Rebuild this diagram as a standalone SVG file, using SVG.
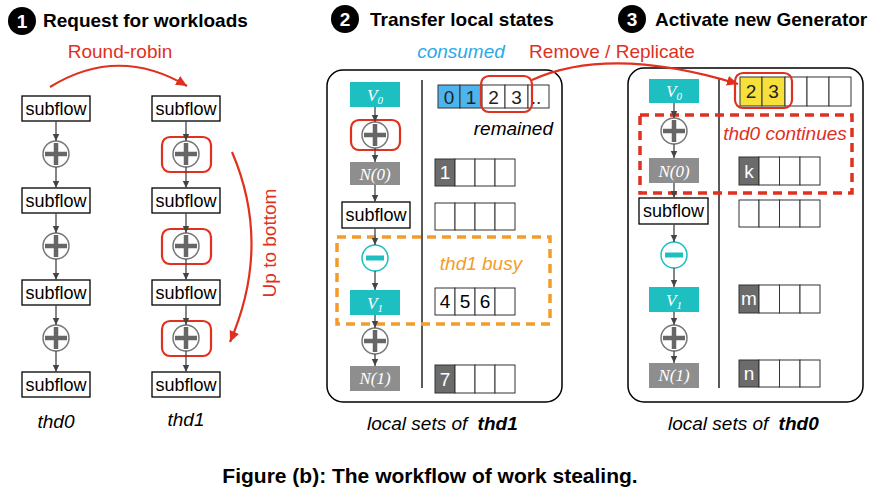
<svg xmlns="http://www.w3.org/2000/svg" width="878" height="500" viewBox="0 0 878 500">
<style>
.t{font-family:"Liberation Sans",Arial,sans-serif}
.ttl{font-family:"Liberation Sans",Arial,sans-serif;font-weight:bold;font-size:19px;fill:#000}
.num{font-family:"Liberation Sans",Arial,sans-serif;font-weight:bold;font-size:19px;fill:#fff;text-anchor:middle}
.sf{fill:#fff;stroke:#000;stroke-width:1.3}
.sft{font-family:"Liberation Sans",Arial,sans-serif;font-size:18px;fill:#000;text-anchor:middle}
.lbl{font-family:"Liberation Sans",Arial,sans-serif;font-size:19px}
.it{font-style:italic}
.red{fill:#E0301E}
.hl{fill:none;stroke:#E0301E;stroke-width:2.2}
.dash{fill:none;stroke-width:3.5;stroke-dasharray:9 6}
.teal{fill:#1DBFC1}
.gray{fill:#8E8E8E}
.nt{font-family:"Liberation Serif","Times New Roman",serif;font-style:italic;font-size:17px;fill:#fff;text-anchor:middle}
.cell{fill:#fff;stroke:#333;stroke-width:1}
.cellt{font-family:"Liberation Sans",Arial,sans-serif;font-size:19px;fill:#222;text-anchor:middle}
.dk{fill:#6B6B6B;stroke:#333;stroke-width:1}
.panel{fill:#fff;stroke:#000;stroke-width:1.5}
.conn line{stroke:#444;stroke-width:1.3}
.redarc{fill:none;stroke:#E0301E;stroke-width:2.2}
</style>
<defs>
<marker id="ah" markerWidth="8" markerHeight="8" refX="7" refY="4" orient="auto" markerUnits="userSpaceOnUse"><path d="M0,0.8 L7,4 L0,7.2 z" fill="#444"/></marker>
<marker id="rah" markerWidth="12" markerHeight="12" refX="11" refY="6" orient="auto" markerUnits="userSpaceOnUse"><path d="M0,1 L11,6 L0,11 z" fill="#E0301E"/></marker>
<g id="plus"><circle r="13" fill="#fff" stroke="#777" stroke-width="1.5"/><path d="M-11,0 H11 M0,-11 V11" stroke="#666" stroke-width="4.5"/></g>
<g id="minus"><circle r="13" fill="#fff" stroke="#1DBFC1" stroke-width="1.5"/><path d="M-9,0 H9" stroke="#1DBFC1" stroke-width="5"/></g>
</defs>
<rect width="878" height="500" fill="#fff"/>

<!-- titles -->
<g id="title1"><circle cx="22" cy="21" r="14" fill="#000"/><text class="num" x="22" y="28">1</text><text class="ttl" x="43" y="27">Request for workloads</text></g>
<g id="title2"><circle cx="345" cy="19" r="14" fill="#000"/><text class="num" x="345" y="26">2</text><text class="ttl" x="370" y="26">Transfer local states</text></g>
<g id="title3"><circle cx="632" cy="19" r="14" fill="#000"/><text class="num" x="632" y="26">3</text><text class="ttl" x="655" y="26">Activate new Generator</text></g>

<!-- panel 1 -->
<g id="col-thd0">
<rect class="sf" x="22" y="96" width="68" height="25"/><text class="sft" x="56" y="115">subflow</text>
<use href="#plus" x="56" y="154"/>
<rect class="sf" x="22" y="188" width="68" height="25"/><text class="sft" x="56" y="207">subflow</text>
<use href="#plus" x="56" y="246"/>
<rect class="sf" x="22" y="280" width="68" height="25"/><text class="sft" x="56" y="299">subflow</text>
<use href="#plus" x="56" y="338"/>
<rect class="sf" x="22" y="372" width="68" height="25"/><text class="sft" x="56" y="391">subflow</text>
<text class="lbl it" x="56" y="428" text-anchor="middle">thd0</text>
</g>
<g id="col-thd1">
<rect class="sf" x="152" y="96" width="68" height="25"/><text class="sft" x="186" y="115">subflow</text>
<use href="#plus" x="186" y="154"/>
<rect class="hl" x="162" y="137" width="49" height="35" rx="8"/>
<rect class="sf" x="152" y="188" width="68" height="25"/><text class="sft" x="186" y="207">subflow</text>
<use href="#plus" x="186" y="246"/>
<rect class="hl" x="162" y="229" width="49" height="35" rx="8"/>
<rect class="sf" x="152" y="280" width="68" height="25"/><text class="sft" x="186" y="299">subflow</text>
<use href="#plus" x="186" y="338"/>
<rect class="hl" x="162" y="321" width="49" height="35" rx="8"/>
<rect class="sf" x="152" y="372" width="68" height="25"/><text class="sft" x="186" y="391">subflow</text>
<text class="lbl it" x="186" y="426" text-anchor="middle">thd1</text>
</g>
<g id="round-robin"><text class="lbl red" x="120" y="58" text-anchor="middle">Round-robin</text></g>
<g id="up-to-bottom"><text class="lbl red" transform="translate(276,243) rotate(-90)" text-anchor="middle">Up to bottom</text></g>

<!-- panel 2 -->
<g id="panel-thd1">
<rect class="panel" x="327" y="70" width="235" height="332" rx="16"/>
<line x1="422" y1="80" x2="422" y2="388" stroke="#000" stroke-width="1.3"/>
</g>
<g id="p2-V0"><rect class="teal" x="350" y="82" width="50" height="25"/><text class="nt" x="375" y="101">V<tspan font-size="11" dy="3">0</tspan></text></g>
<g id="p2-plus0"><use href="#plus" x="375" y="135"/><rect class="hl" x="351" y="120" width="49" height="30" rx="8"/></g>
<g id="p2-N0"><rect class="gray" x="350" y="162" width="50" height="23"/><text class="nt" x="375" y="180">N(0)</text></g>
<g id="p2-subflow"><rect class="sf" x="342" y="202" width="68" height="26"/><text class="sft" x="376" y="221">subflow</text></g>
<g id="p2-minus"><use href="#minus" x="375" y="258"/></g>
<g id="p2-V1"><rect class="teal" x="350" y="290" width="50" height="25"/><text class="nt" x="375" y="309">V<tspan font-size="11" dy="3">1</tspan></text></g>
<g id="p2-plus1"><use href="#plus" x="375" y="341"/></g>
<g id="p2-N1"><rect class="gray" x="350" y="366" width="50" height="25"/><text class="nt" x="375" y="384">N(1)</text></g>

<g id="p2-cells-top">
<rect x="438" y="85" width="22" height="23" fill="#4DB4EE" stroke="#333"/>
<rect x="460" y="85" width="22" height="23" fill="#4DB4EE" stroke="#333"/>
<rect class="cell" x="482" y="85" width="23" height="23" stroke="#aaa"/>
<rect class="cell" x="505" y="85" width="23" height="23" stroke="#aaa"/>
<rect class="cell" x="528" y="85" width="21" height="23"/>
<text class="cellt" x="449" y="104">0</text><text class="cellt" x="471" y="104">1</text><text class="cellt" x="493.5" y="104">2</text><text class="cellt" x="516.5" y="104">3</text><text class="cellt" x="536" y="104" font-size="15">..</text>
<rect class="hl" x="481" y="76" width="51" height="36" rx="8"/>
</g>
<g id="p2-cells-N0">
<rect class="dk" x="435" y="159" width="20" height="27"/><rect class="cell" x="455" y="159" width="20" height="27"/><rect class="cell" x="475" y="159" width="20" height="27"/><rect class="cell" x="495" y="159" width="20" height="27"/>
<text class="cellt" x="445" y="179" style="fill:#fff">1</text>
</g>
<g id="p2-cells-sub">
<rect class="cell" x="435" y="203" width="20" height="27"/><rect class="cell" x="455" y="203" width="20" height="27"/><rect class="cell" x="475" y="203" width="20" height="27"/><rect class="cell" x="495" y="203" width="20" height="27"/>
</g>
<g id="p2-cells-V1">
<rect class="cell" x="435" y="288" width="20" height="27"/><rect class="cell" x="455" y="288" width="20" height="27"/><rect class="cell" x="475" y="288" width="20" height="27"/><rect class="cell" x="495" y="288" width="20" height="27"/>
<text class="cellt" x="445" y="308" style="fill:#000">4</text><text class="cellt" x="465" y="308" style="fill:#000">5</text><text class="cellt" x="485" y="308" style="fill:#000">6</text>
</g>
<g id="p2-cells-N1">
<rect class="dk" x="435" y="365" width="20" height="28"/><rect class="cell" x="455" y="365" width="20" height="28"/><rect class="cell" x="475" y="365" width="20" height="28"/><rect class="cell" x="495" y="365" width="20" height="28"/>
<text class="cellt" x="445" y="386" style="fill:#fff">7</text>
</g>
<g id="p2-busy"><rect class="dash" x="337" y="237" width="213" height="87" stroke="#F39C2B"/><text class="lbl it" x="481" y="270" text-anchor="middle" fill="#F39C2B">thd1 busy</text></g>
<g id="p2-labels">
<text class="lbl it" x="461" y="58" text-anchor="middle" fill="#2AA9E8">consumed</text>
<text class="lbl it" x="553" y="135" text-anchor="end" fill="#000">remained</text>
<text class="lbl it" x="367" y="430" fill="#000">local sets of <tspan dx="5" font-weight="bold">thd1</tspan></text>
</g>
<g id="replicate-label"><text class="lbl red" x="612" y="58" text-anchor="middle">Remove / Replicate</text></g>

<!-- panel 3 -->
<g id="panel-thd0">
<rect class="panel" x="628" y="68" width="235" height="334" rx="16"/>
<line x1="719" y1="78" x2="719" y2="388" stroke="#000" stroke-width="1.3"/>
</g>
<g id="p3-V0"><rect class="teal" x="649" y="79" width="50" height="24"/><text class="nt" x="674" y="97">V<tspan font-size="11" dy="3">0</tspan></text></g>
<g id="p3-plus0"><use href="#plus" x="674" y="131"/></g>
<g id="p3-N0"><rect class="gray" x="649" y="158" width="50" height="25"/><text class="nt" x="674" y="177">N(0)</text></g>
<g id="p3-subflow"><rect class="sf" x="639" y="198" width="69" height="26"/><text class="sft" x="673.5" y="217">subflow</text></g>
<g id="p3-minus"><use href="#minus" x="674" y="255"/></g>
<g id="p3-V1"><rect class="teal" x="649" y="287" width="50" height="25"/><text class="nt" x="674" y="306">V<tspan font-size="11" dy="3">1</tspan></text></g>
<g id="p3-plus1"><use href="#plus" x="674" y="338"/></g>
<g id="p3-N1"><rect class="gray" x="649" y="363" width="50" height="25"/><text class="nt" x="674" y="381">N(1)</text></g>

<g id="p3-cells-top">
<rect x="740" y="77" width="22" height="29" fill="#F7E03A" stroke="#333"/>
<rect x="762" y="77" width="23" height="29" fill="#F7E03A" stroke="#333"/>
<rect class="cell" x="785" y="77" width="22" height="29" stroke="#999"/>
<rect class="cell" x="807" y="77" width="22" height="29" stroke="#999"/>
<rect class="cell" x="829" y="77" width="22" height="29" stroke="#666"/>
<text class="cellt" x="751" y="98">2</text><text class="cellt" x="773.5" y="98">3</text>
<rect class="hl" x="735" y="73" width="57" height="35" rx="8"/>
</g>
<g id="p3-cells-N0">
<rect class="dk" x="739" y="157" width="20" height="28"/><rect class="cell" x="759" y="157" width="20.5" height="28"/><rect class="cell" x="779.5" y="157" width="20.5" height="28"/><rect class="cell" x="800" y="157" width="20" height="28"/>
<text class="cellt" x="749" y="178" style="fill:#fff">k</text>
</g>
<g id="p3-cells-sub">
<rect class="cell" x="739" y="200" width="20" height="27"/><rect class="cell" x="759" y="200" width="20.5" height="27"/><rect class="cell" x="779.5" y="200" width="20.5" height="27"/><rect class="cell" x="800" y="200" width="20" height="27"/>
</g>
<g id="p3-cells-V1">
<rect class="dk" x="739" y="285" width="20" height="28"/><rect class="cell" x="759" y="285" width="20.5" height="28"/><rect class="cell" x="779.5" y="285" width="20.5" height="28"/><rect class="cell" x="800" y="285" width="20" height="28"/>
<text class="cellt" x="749" y="305" style="fill:#fff">m</text>
</g>
<g id="p3-cells-N1">
<rect class="dk" x="739" y="360" width="20" height="27"/><rect class="cell" x="759" y="360" width="20.5" height="27"/><rect class="cell" x="779.5" y="360" width="20.5" height="27"/><rect class="cell" x="800" y="360" width="20" height="27"/>
<text class="cellt" x="749" y="380" style="fill:#fff">n</text>
</g>
<g id="p3-continues"><rect class="dash" x="640" y="115" width="212" height="78" stroke="#E0301E"/><text class="lbl it red" x="785" y="140" text-anchor="middle">thd0 continues</text></g>
<g id="p3-labels"><text class="lbl it" x="668" y="430" fill="#000">local sets of <tspan dx="5" font-weight="bold">thd0</tspan></text></g>

<g id="caption"><text class="t" x="430" y="483" text-anchor="middle" font-weight="bold" font-size="21">Figure (b): The workflow of work stealing.</text></g>

<!-- connectors -->
<g id="connectors" class="conn">
<line x1="56" y1="121" x2="56" y2="141" marker-end="url(#ah)"/>
<line x1="56" y1="167" x2="56" y2="188" marker-end="url(#ah)"/>
<line x1="56" y1="213" x2="56" y2="233" marker-end="url(#ah)"/>
<line x1="56" y1="259" x2="56" y2="280" marker-end="url(#ah)"/>
<line x1="56" y1="305" x2="56" y2="325" marker-end="url(#ah)"/>
<line x1="56" y1="351" x2="56" y2="372" marker-end="url(#ah)"/>
<line x1="186" y1="121" x2="186" y2="141" marker-end="url(#ah)"/>
<line x1="186" y1="167" x2="186" y2="188" marker-end="url(#ah)"/>
<line x1="186" y1="213" x2="186" y2="233" marker-end="url(#ah)"/>
<line x1="186" y1="259" x2="186" y2="280" marker-end="url(#ah)"/>
<line x1="186" y1="305" x2="186" y2="325" marker-end="url(#ah)"/>
<line x1="186" y1="351" x2="186" y2="372" marker-end="url(#ah)"/>
<line x1="375" y1="107" x2="375" y2="122" marker-end="url(#ah)"/>
<line x1="375" y1="148" x2="375" y2="162" marker-end="url(#ah)"/>
<line x1="375" y1="185" x2="375" y2="202" marker-end="url(#ah)"/>
<line x1="375" y1="228" x2="375" y2="245" marker-end="url(#ah)"/>
<line x1="375" y1="271" x2="375" y2="290" marker-end="url(#ah)"/>
<line x1="375" y1="315" x2="375" y2="328" marker-end="url(#ah)"/>
<line x1="375" y1="354" x2="375" y2="366" marker-end="url(#ah)"/>
<line x1="674" y1="103" x2="674" y2="118" marker-end="url(#ah)"/>
<line x1="674" y1="144" x2="674" y2="158" marker-end="url(#ah)"/>
<line x1="674" y1="183" x2="674" y2="198" marker-end="url(#ah)"/>
<line x1="674" y1="224" x2="674" y2="242" marker-end="url(#ah)"/>
<line x1="674" y1="268" x2="674" y2="287" marker-end="url(#ah)"/>
<line x1="674" y1="312" x2="674" y2="325" marker-end="url(#ah)"/>
<line x1="674" y1="351" x2="674" y2="363" marker-end="url(#ah)"/>
<path class="redarc" d="M50,87 Q118,45 187,86" marker-end="url(#rah)"/>
<path class="redarc" d="M232,152 Q272,245 230,342" marker-end="url(#rah)"/>
<path class="redarc" d="M532,80 Q610,45 738,84" marker-end="url(#rah)"/>
</g>
</svg>
